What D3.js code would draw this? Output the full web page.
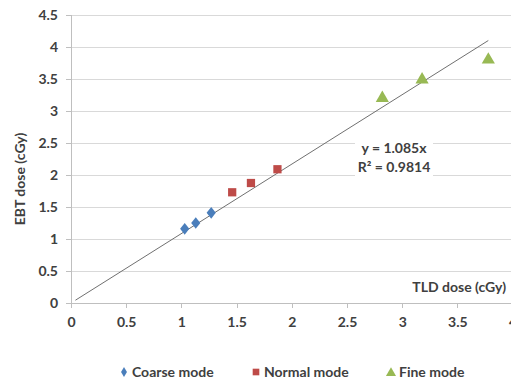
<!DOCTYPE html>
<html><head><meta charset="utf-8">
<script src="https://cdn.jsdelivr.net/npm/d3@7"></script>
<style>body{margin:0;background:#fff}svg{display:block}text{font-family:Lato,"Open Sans",sans-serif;font-weight:bold;fill:#404040}</style>
</head><body>
<svg id="c" width="511" height="381"></svg>
<script>
const coarseX = [1.03, 1.13, 1.27];
const coarseY = [1.16, 1.25, 1.41];
const normalX = [1.46, 1.63, 1.87];
const normalY = [1.73, 1.875, 2.09];
const fineX = [2.82, 3.18, 3.78];
const fineY = [3.20, 3.49, 3.80];
const slope = 1.085;
const trendRange = [0.04, 3.78];
const xTicks = [0, 0.5, 1, 1.5, 2, 2.5, 3, 3.5, 4];
const yTicks = [0, 0.5, 1, 1.5, 2, 2.5, 3, 3.5, 4, 4.5];
const seriesNames = ["Coarse mode", "Normal mode", "Fine mode"];
const colors = ["#4a7ebb", "#be4b48", "#98b954"];

const svg = d3.select("#c");
const x = d3.scaleLinear().domain([0, 4]).range([71, 512.6]);
const y = d3.scaleLinear().domain([0, 4.5]).range([303, 15]);

// gridlines
svg.append("g").selectAll("line").data(yTicks.slice(1)).join("line")
  .attr("x1", x(0)).attr("x2", 511).attr("y1", d => y(d)).attr("y2", d => y(d))
  .attr("stroke", "#d9d9d9").attr("stroke-width", 1).attr("shape-rendering", "crispEdges");

// axes
const yAx = svg.append("g").attr("transform", `translate(${x(0)},0)`)
  .call(d3.axisLeft(y).tickValues(yTicks).tickSize(5).tickPadding(8).tickFormat(d3.format("")));
const xAx = svg.append("g").attr("transform", `translate(0,${y(0)})`)
  .call(d3.axisBottom(x).tickValues(xTicks).tickSize(5).tickPadding(9).tickFormat(d3.format("")));
[yAx, xAx].forEach(a => {
  a.select(".domain").attr("stroke", "#bfbfbf").attr("shape-rendering", "crispEdges");
  a.selectAll(".tick line").attr("stroke", "#bfbfbf").attr("shape-rendering", "crispEdges");
  a.selectAll("text").style("font-family", "Lato,'Open Sans',sans-serif").style("font-weight", "bold")
    .style("font-size", "14px").attr("fill", "#404040");
});

// trendline
svg.append("line")
  .attr("x1", x(trendRange[0])).attr("y1", y(slope * trendRange[0]))
  .attr("x2", x(trendRange[1])).attr("y2", y(slope * trendRange[1]))
  .attr("stroke", "#707070").attr("stroke-width", 1);

// markers
const sym = [d3.symbolDiamond, d3.symbolSquare, d3.symbolTriangle];
const sizes = [55, 68, 75];
const data = [[coarseX, coarseY], [normalX, normalY], [fineX, fineY]];
data.forEach((s, i) => {
  svg.append("g").selectAll("path").data(s[0].map((v, j) => [v, s[1][j]])).join("path")
    .attr("d", d3.symbol(sym[i], sizes[i]))
    .attr("transform", d => `translate(${x(d[0])},${y(d[1])})` + (i === 0 ? " scale(1.15,0.85)" : ""))
    .attr("fill", colors[i]);
});

// equation label with white box
svg.append("rect").attr("x", 355).attr("y", 135).attr("width", 78).attr("height", 42).attr("fill", "#fff");
const eq = svg.append("text").attr("x", 394).attr("text-anchor", "middle").style("font-size", "14px");
eq.append("tspan").attr("x", 394).attr("y", 153).text("y = 1.085x");
eq.append("tspan").attr("x", 394).attr("y", 172).text("R² = 0.9814");

// axis titles
svg.append("text").attr("x", 506).attr("y", 292).attr("text-anchor", "end").style("font-size", "14px").text("TLD dose (cGy)");
svg.append("text").attr("transform", "translate(25,179) rotate(-90)").attr("text-anchor", "middle")
  .style("font-size", "14px").text("EBT dose (cGy)");

// legend
const legX = [124, 256, 391];
seriesNames.forEach((n, i) => {
  svg.append("path").attr("d", d3.symbol(sym[i], i === 0 ? 30 : 44))
    .attr("transform", `translate(${legX[i]},${i === 2 ? 373 : 372})`).attr("fill", colors[i]);
  svg.append("text").attr("x", legX[i] + 8).attr("y", 377).style("font-size", "14px").text(n);
});
</script>
</body></html>
